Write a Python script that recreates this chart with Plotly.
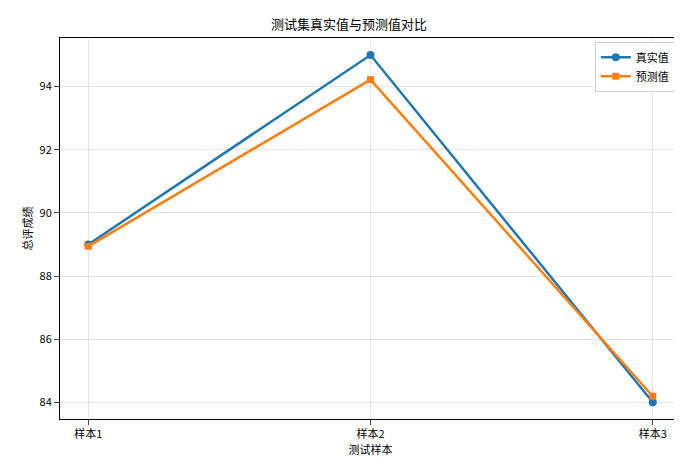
import plotly.graph_objects as go

samples = ["样本1", "样本2", "样本3"]
true_vals = [89.0, 95.0, 84.0]
pred_vals = [88.94, 94.22, 84.19]

fig = go.Figure()
fig.add_trace(go.Scatter(x=[0, 1, 2], y=true_vals, name="真实值", mode="lines+markers",
                         line=dict(color="#1f77b4", width=2.5), marker=dict(symbol="circle", size=8)))
fig.add_trace(go.Scatter(x=[0, 1, 2], y=pred_vals, name="预测值", mode="lines+markers",
                         line=dict(color="#ff7f0e", width=2.5), marker=dict(symbol="square", size=7)))

axis_common = dict(showline=True, linecolor="black", mirror=True, ticks="outside", automargin=False,
                   gridcolor="rgba(0,0,0,0.1)", zeroline=False, tickfont=dict(size=11, color="black"))
fig.update_layout(
    width=682, height=469, plot_bgcolor="white", paper_bgcolor="white",
    font=dict(family="Noto Sans CJK SC, DejaVu Sans", color="black", size=11),
    title=dict(text="测试集真实值与预测值对比", x=0.5, xanchor="center", y=0.975, font=dict(size=13)),
    margin=dict(l=52, r=9, t=30, b=58),
    xaxis=dict(range=[-0.1, 2.1], tickvals=[0, 1, 2], ticktext=samples,
               title=dict(text="测试样本", standoff=2, font=dict(size=11)), **axis_common),
    yaxis=dict(range=[83.47, 95.54], tickvals=[84, 86, 88, 90, 92, 94],
               title=dict(text="总评成绩", standoff=4, font=dict(size=11)), **axis_common),
    legend=dict(x=0.99, y=0.99, xanchor="right", yanchor="top", bordercolor="#ccc",
                borderwidth=1, bgcolor="white"),
)
fig.write_html("out.html")
